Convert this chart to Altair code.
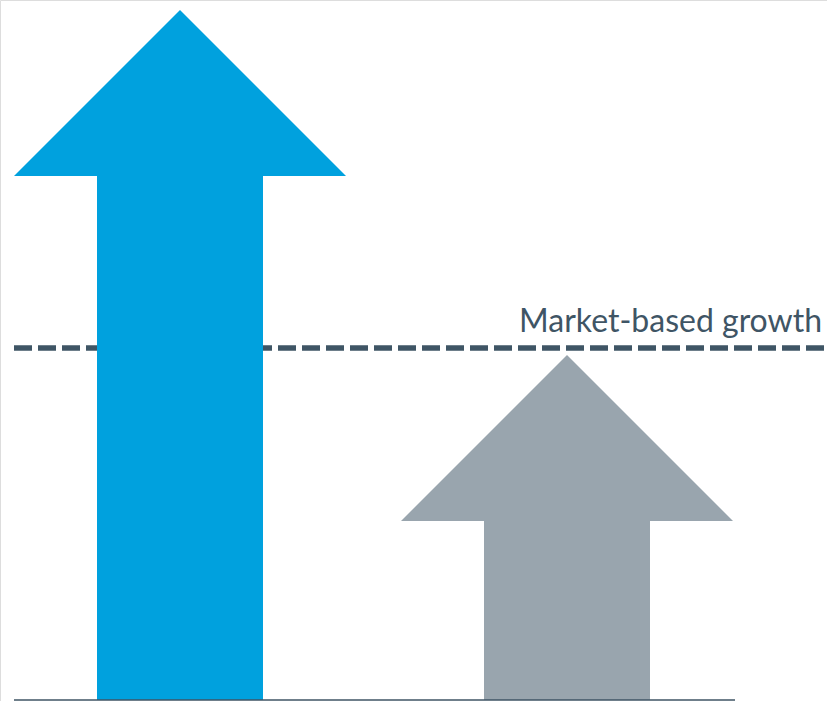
import altair as alt
import pandas as pd

# ---- data (in chart units: baseline = 0, pixel-sized units) ----
categories = ["Outperformer", "Peer"]
arrow_values = [690, 345]          # height of arrow tips
arrow_colors = ["#00a1de", "#99a5ae"]
market_label = "Market-based growth"
market_value = 352

# ---- geometry (sizes) ----
centers = [180, 567]
shaft_half = 83
head_half = 166
head_len = 166
W, H = 827, 701

xs = alt.Scale(domain=[0, W], nice=False, zero=False)
ys = alt.Scale(domain=[-1, H - 1], nice=False, zero=False)

layers = []

dash = alt.Chart(pd.DataFrame({"y": [market_value], "x": [14], "x2": [W]})).mark_rule(
    color="#3f5565", strokeWidth=5.5, strokeDash=[18, 6]
).encode(x=alt.X("x:Q", scale=xs, axis=None), x2="x2:Q", y=alt.Y("y:Q", scale=ys, axis=None))
layers.append(dash)

label = alt.Chart(pd.DataFrame({"y": [market_value], "t": [market_label]})).mark_text(
    align="right", baseline="alphabetic", font="Lato", fontSize=32, fontWeight=400,
    color="#3f5565", dy=-16
).encode(x=alt.value(822), y=alt.Y("y:Q", scale=ys, axis=None), text="t:N")
layers.append(label)

for cat, v, c, col in zip(categories, arrow_values, centers, arrow_colors):
    base = v - head_len
    shaft_df = pd.DataFrame([dict(cat=cat, x=c - shaft_half, x2=c + shaft_half, y=0, y2=base + 0.5)])
    head_df = pd.DataFrame([
        dict(cat=cat, x=c - head_half, y=base, y2=base),
        dict(cat=cat, x=c, y=v, y2=base),
        dict(cat=cat, x=c + head_half, y=base, y2=base),
    ])
    layers.append(
        alt.Chart(shaft_df).mark_rect(color=col).encode(
            x=alt.X("x:Q", scale=xs, axis=None), x2="x2:Q",
            y=alt.Y("y:Q", scale=ys, axis=None), y2="y2:Q",
        )
    )
    layers.append(
        alt.Chart(head_df).mark_area(color=col, interpolate="linear").encode(
            x=alt.X("x:Q", scale=xs, axis=None),
            y=alt.Y("y:Q", scale=ys, axis=None, stack=None), y2="y2:Q",
        )
    )

baseline = alt.Chart(pd.DataFrame({"y": [0], "x": [14], "x2": [735]})).mark_rule(
    color="#3f5565", strokeWidth=1.5
).encode(x=alt.X("x:Q", scale=xs, axis=None), x2="x2:Q", y=alt.Y("y:Q", scale=ys, axis=None))
layers.append(baseline)

chart = alt.layer(*layers).properties(
    width=W, height=H, autosize=alt.AutoSizeParams(type="none"), padding=0
).configure_view(stroke=None).configure(background="white")

chart.save("out.html", embed_options={"renderer": "svg", "actions": False})
